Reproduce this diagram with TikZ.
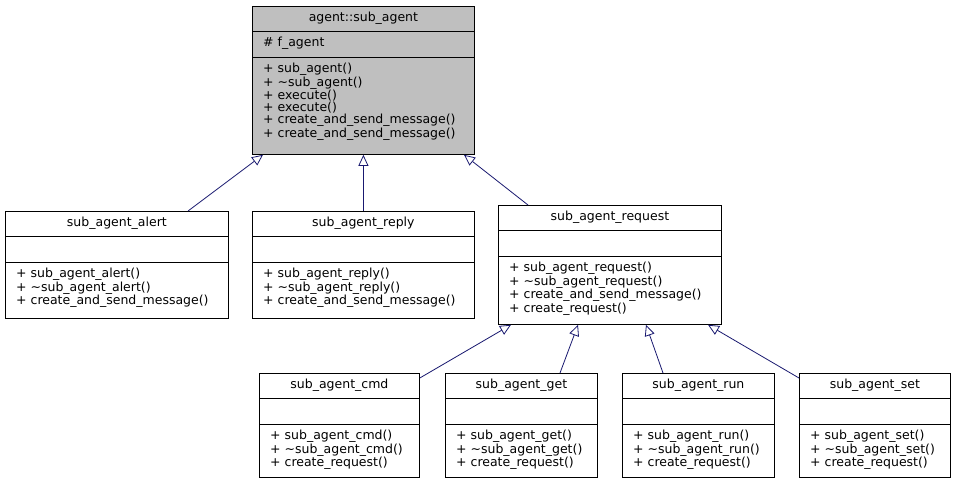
\documentclass[tikz,border=0pt]{standalone}
\usepackage{fontspec}
\setmainfont{DejaVu Sans}
\usetikzlibrary{calc,arrows.meta}
\definecolor{edge}{HTML}{191970}
\tikzset{
 box/.style={draw=black,line width=0.8pt,anchor=north west,inner sep=0pt},
 txt/.style={font=\fontsize{12.5}{12}\selectfont,inner sep=0pt,align=left},
 inh/.style={draw=edge,line width=0.8pt,-{Triangle[open,length=11pt,width=10pt,fill=white]}}
}
% \cls{name}{x}{y}{w}{h3}{fill}{title}{attrs}{methods}
\newcommand{\cls}[9]{
 \node[box,fill=#6,minimum width=#4pt,minimum height=51pt+#5pt] (#1) at (#2,#3) {};
 \draw[line width=0.8pt] ($(#1.north west)+(0,25)$) -- ($(#1.north east)+(0,25)$);
 \draw[line width=0.8pt] ($(#1.north west)+(0,51)$) -- ($(#1.north east)+(0,51)$);
 \node[txt,anchor=center] (#1-t) at ($(#1.north)+(0,12.5)$) {#7};
 \node[txt,anchor=north west] (#1-a) at ($(#1.north west)+(11,31)$) {#8};
 \node[txt,anchor=north west] (#1-m) at ($(#1.north west)+(11,57)$) {#9};
}
\begin{document}
\begin{tikzpicture}[x=1pt,y=-1pt]
\useasboundingbox[fill=white] (0,0) rectangle (957,485);
\cls{base}{252}{6}{222}{97}{gray!50}{agent::sub\_agent}{\# f\_agent}{+ sub\_agent()\\+ \textasciitilde sub\_agent()\\+ execute()\\+ execute()\\+ create\_and\_send\_message()\\+ create\_and\_send\_message()}
\cls{alert}{5}{211}{223}{56}{white}{sub\_agent\_alert}{}{+ sub\_agent\_alert()\\+ \textasciitilde sub\_agent\_alert()\\+ create\_and\_send\_message()}
\cls{reply}{252}{211}{222}{56}{white}{sub\_agent\_reply}{}{+ sub\_agent\_reply()\\+ \textasciitilde sub\_agent\_reply()\\+ create\_and\_send\_message()}
\cls{req}{498}{205}{223}{68}{white}{sub\_agent\_request}{}{+ sub\_agent\_request()\\+ \textasciitilde sub\_agent\_request()\\+ create\_and\_send\_message()\\+ create\_request()}
\cls{cmd}{259}{373}{160}{53}{white}{sub\_agent\_cmd}{}{+ sub\_agent\_cmd()\\+ \textasciitilde sub\_agent\_cmd()\\+ create\_request()}
\cls{get}{445}{373}{152}{53}{white}{sub\_agent\_get}{}{+ sub\_agent\_get()\\+ \textasciitilde sub\_agent\_get()\\+ create\_request()}
\cls{run}{622}{373}{152}{53}{white}{sub\_agent\_run}{}{+ sub\_agent\_run()\\+ \textasciitilde sub\_agent\_run()\\+ create\_request()}
\cls{set}{799}{373}{151}{53}{white}{sub\_agent\_set}{}{+ sub\_agent\_set()\\+ \textasciitilde sub\_agent\_set()\\+ create\_request()}
\draw[inh] ($(alert.north west)+(183,0)$) -- ($(base.south west)+(11,0)$);
\draw[inh] (reply.north) -- (base.south);
\draw[inh] ($(req.north west)+(30,0)$) -- ($(base.south west)+(212,0)$);
\draw[inh] ($(cmd.north east)+(0,5)$) -- ($(req.south west)+(13,0)$);
\draw[inh] ($(get.north west)+(115,0)$) -- ($(req.south west)+(80,0)$);
\draw[inh] ($(run.north west)+(41,0)$) -- ($(req.south west)+(148,0)$);
\draw[inh] ($(set.north west)+(0,5)$) -- ($(req.south west)+(210,0)$);
\end{tikzpicture}
\end{document}
